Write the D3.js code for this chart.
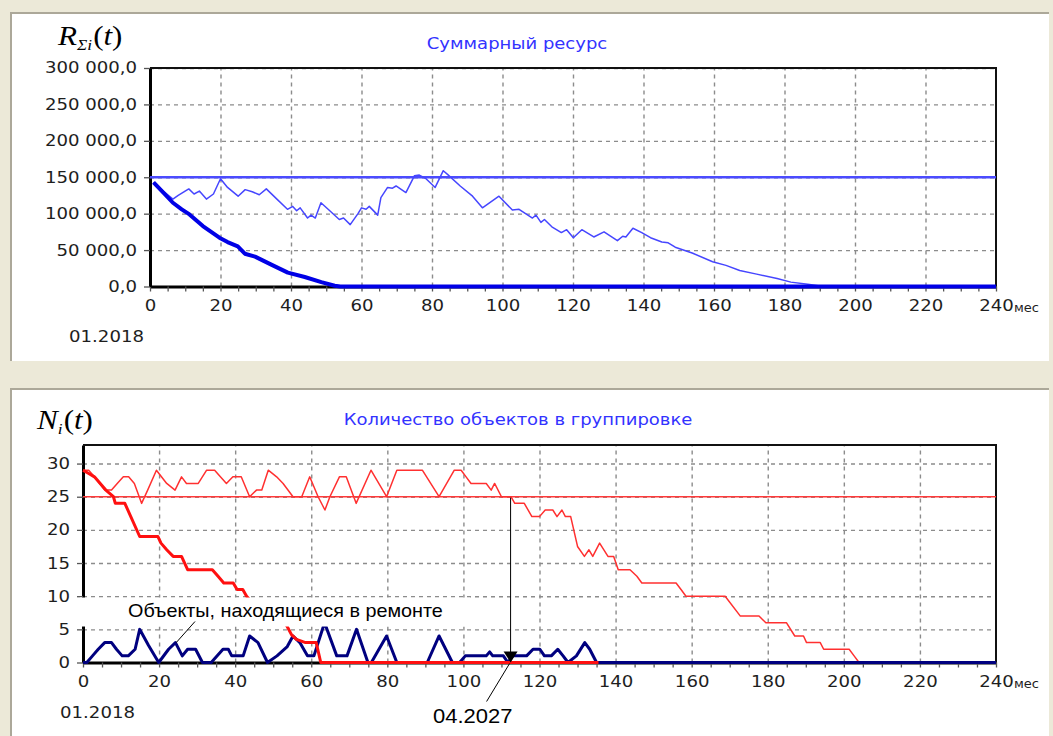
<!DOCTYPE html>
<html>
<head>
<meta charset="utf-8">
<script src="https://cdn.jsdelivr.net/npm/d3@7"></script>
<style>
  body { margin: 0; background: #ece9d8; }
  svg { display: block; font-family: 'DejaVu Sans', sans-serif; }
</style>
</head>
<body>
<svg id="chart" width="1053" height="736"></svg>
<script>
// ---- data (months from 01.2018) ----

const xTicks = d3.range(0, 241, 20);
const xMinorTicks = d3.range(0, 241, 5);

// top chart: total resource
const resTicks = [0, 50000, 100000, 150000, 200000, 250000, 300000];
const resLimit = 150000;

const resTotalMonths = [1, 4, 6.5, 8, 11, 12.5, 14, 16, 18, 20, 22, 25, 27, 29, 31, 33, 36, 39,
  40.5, 41.6, 42.6, 44.7, 45.7, 46.9, 48.5, 51, 53.7, 54.9, 56.8, 59, 60, 61.3, 62.2, 64.6,
  65.5, 67.4, 68.8, 69.8, 72.6, 75, 76.4, 78.3, 80.9, 83.2, 84.4, 88, 91.5, 94.3, 99, 102.8,
  104.7, 108.5, 109.5, 110.9, 111.9, 114, 116.7, 118.2, 120.1, 122.5, 125.9, 128.8, 132.6,
  134.1, 135, 137, 139.5, 142, 145.2, 147, 149, 153.8, 159.6, 163.4, 167.3, 172.1, 177.9,
  181.8, 186.6, 191, 240];
const resTotalValues = [143000, 130000, 120000, 125000, 134000, 127000, 131000, 120000,
  127000, 148000, 136000, 124000, 133000, 130000, 126000, 134000, 120000, 106000, 110000,
  104000, 108000, 94000, 98000, 94000, 115000, 104000, 92000, 94000, 85000, 100000, 108000,
  106000, 110000, 98000, 122000, 136000, 135000, 138000, 129000, 152000, 153000, 148000,
  136000, 159000, 154000, 138000, 124000, 108000, 124000, 105000, 106000, 94000, 98000,
  88000, 92000, 82000, 74000, 78000, 67000, 78000, 68000, 75000, 63000, 69000, 68000, 80000,
  74000, 67000, 61000, 60000, 54000, 46000, 34000, 29000, 22000, 17000, 11000, 6000, 3000, 0, 0];

const resBaseMonths = [1, 4, 6.5, 9, 11.2, 15, 19.7, 22, 24.9, 26.9, 29.8, 34.4, 39.1, 43.9,
  48.6, 52.4, 54, 240];
const resBaseValues = [143000, 128000, 115000, 106000, 99000, 83000, 67000, 61000, 55000,
  45000, 41000, 30000, 19000, 13000, 6000, 1000, 0, 0];

// bottom chart: number of objects
const cntTicks = [0, 5, 10, 15, 20, 25, 30];
const cntLimit = 25;

const cntTotalMonths = [0, 1.5, 3, 5.7, 7.5, 9, 10.6, 12, 13.5, 15.4, 17, 19.3, 22, 24.2,
  25.9, 27.2, 30.3, 32.5, 34.6, 37.7, 39.4, 41.6, 43.8, 45.6, 47, 48.7, 50.9, 52.6, 55.2,
  57.5, 59.6, 61.8, 63.6, 64.9, 67.4, 69.2, 71.8, 75.7, 79.8, 82.5, 89.2, 93.6, 97.6, 99.4,
  100.7, 102, 106, 107.3, 108.2, 110, 112.5, 113.5, 116, 118, 120, 121.5, 123.5, 124.6,
  125.9, 126.8, 128.2, 130, 131.8, 133, 134, 135.8, 138, 139.5, 140.7, 143.8, 145.6, 146.9,
  155.9, 157.2, 158.5, 168.8, 172.8, 177.7, 179.5, 184.9, 187.1, 189.4, 190.2, 193.8, 194.7,
  201.4, 202.7, 204];
const cntTotalValues = [29, 29, 28, 26, 26, 27, 28, 28, 27, 24, 26, 29, 27, 26, 28, 27, 27,
  29, 29, 27, 28, 28, 25, 26, 26, 29, 28, 27, 25, 25, 28, 25, 23, 25, 28, 28, 24, 29, 25, 29,
  29, 25, 29, 29, 28, 27, 27, 26, 27, 25, 25, 24, 24, 22, 22, 23, 23, 22, 23, 22, 22, 17.5,
  16, 17, 16, 18, 16, 16, 14, 14, 13, 12, 12, 11, 10, 10, 7, 7, 6, 6, 4, 4, 3, 3, 2, 2, 1, 0];

const cntBaseMonths = [0, 1.5, 3, 6, 8, 8.5, 11, 14.9, 19.7, 20.5, 22, 23.7, 25.9, 27.5, 34,
  35.5, 37, 39.5, 40.5, 42, 43, 44.5, 46.5, 49, 52, 53.6, 54.8, 56.1, 58.5, 61.3, 62.5, 135.5];
const cntBaseValues = [29, 28.5, 28, 26, 25, 24, 24, 19, 19, 18, 17, 16, 16, 14, 14, 13, 12,
  12, 11, 11, 10, 9, 8, 7, 6.5, 5.5, 4.2, 3.5, 3, 3, 0, 0];

const repairMonths = [0, 1, 2.5, 4, 5.7, 7.5, 8.8, 10.3, 11.9, 13.7, 14.9, 17.2, 19.9, 22.5,
  24.3, 26.1, 27.5, 29.6, 31.4, 33.7, 36.8, 38.2, 39.1, 42.1, 43.8, 46, 48.5, 51, 53.7, 55.2,
  57, 59, 60.7, 63.5, 66.7, 69.4, 71.9, 74.9, 75.8, 79.8, 82.5, 90.5, 93.6, 97.1, 99, 100.5,
  106, 106.9, 107.7, 110.5, 111.7, 113, 116.6, 118.3, 120.1, 121.3, 123.1, 124.8, 126.2,
  127.5, 129.7, 131.9, 133.2, 135, 240];
const repairValues = [0, 0, 1, 2, 3, 3, 2, 1, 1, 2, 5, 2.6, 0, 2, 3, 1, 2, 2, 0, 0, 2, 2, 1,
  1, 4, 3, 0, 1, 2.4, 4, 3, 1, 1, 6, 1, 1, 5, 0, 0, 4, 0, 0, 4, 0, 0, 1, 1, 1.6, 1, 1, 0, 1,
  1, 2, 2, 1, 1, 2, 1, 0, 1, 3, 2, 0, 0];

const crossMonth = 112.4; // 04.2027

// ---- drawing ----

const svg = d3.select('#chart');
const ruFormat = d3.formatLocale({ decimal: ',', thousands: ' ', grouping: [3], currency: ['', ''] });

// window panels
function panel(y, h) {
  svg.append('rect').attr('x', 10).attr('y', y).attr('width', 1039).attr('height', h).attr('fill', '#fff');
  svg.append('path')
    .attr('d', `M11,${y + h} V${y + 1} H1049`)
    .attr('fill', 'none')
    .attr('stroke', '#aca899')
    .attr('stroke-width', 2);
}
panel(12, 349);
panel(388, 360);

function plot(p) {
  const x = d3.scaleLinear().domain([0, 240]).range([p.left, p.right]);
  const y = d3.scaleLinear().domain(p.yDomain).range([p.bottom, p.top]);
  const g = svg.append('g');

  // dashed grid
  g.append('g')
    .attr('transform', `translate(0,${p.bottom})`)
    .call(d3.axisBottom(x).tickValues(xTicks.slice(1, -1)).tickSize(-(p.bottom - p.top)).tickFormat(''))
    .call((s) => s.select('.domain').remove())
    .selectAll('line')
    .attr('stroke', '#8c8c8c')
    .attr('stroke-width', 1.4)
    .attr('stroke-dasharray', '4,4');
  g.append('g')
    .attr('transform', `translate(${p.left},0)`)
    .call(d3.axisLeft(y).tickValues(p.yTicks.slice(1)).tickSize(-(p.right - p.left)).tickFormat(''))
    .call((s) => s.select('.domain').remove())
    .selectAll('line')
    .attr('stroke', '#8c8c8c')
    .attr('stroke-width', 1.4)
    .attr('stroke-dasharray', '4,4');

  // axes
  const xAxis = g.append('g')
    .attr('transform', `translate(0,${p.bottom})`)
    .call(d3.axisBottom(x).tickValues(xMinorTicks).tickSize(5).tickSizeOuter(0).tickPadding(8)
      .tickFormat((d) => (d % 20 === 0 ? d : '')));
  const yAxis = g.append('g')
    .attr('transform', `translate(${p.left},0)`)
    .call(d3.axisLeft(y).tickValues(p.yTicks).tickSize(6).tickSizeOuter(0).tickPadding(5)
      .tickFormat(p.yFormat));
  [xAxis, yAxis].forEach((a) => {
    a.select('.domain').attr('stroke', '#000').attr('stroke-width', 3);
    a.selectAll('.tick line').attr('stroke', '#555').attr('stroke-width', 1.3);
    a.selectAll('text')
      .attr('font-family', 'DejaVu Sans')
      .attr('font-size', 15.5)
      .attr('fill', '#1e1e1e')
      .attr('transform', 'scale(1.17,1)');
  });
  xAxis.selectAll('text').attr('y', 14);

  // frame top / right
  g.append('path')
    .attr('d', `M${p.left},${p.top} H${p.right} V${p.bottom}`)
    .attr('fill', 'none')
    .attr('stroke', '#111')
    .attr('stroke-width', 2);

  g.append('text')
    .attr('x', x(240) + 18)
    .attr('y', p.bottom + 25)
    .attr('font-size', 13)
    .attr('fill', '#1e1e1e')
    .text('мес');

  g.append('text')
    .attr('transform', `translate(${p.dateX},${p.bottom + 55}) scale(1.17,1)`)
    .attr('text-anchor', 'end')
    .attr('font-size', 15.5)
    .attr('fill', '#1e1e1e')
    .text('01.2018');

  g.append('text')
    .attr('transform', `translate(${p.titleX},${p.titleY}) scale(1.2,1)`)
    .attr('text-anchor', 'middle')
    .attr('font-size', 15)
    .attr('fill', '#3333ff')
    .text(p.title);

  return { x, y, g };
}

function drawLine(c, months, values, color, width) {
  c.g.append('path')
    .datum(d3.zip(months, values))
    .attr('fill', 'none')
    .attr('stroke', color)
    .attr('stroke-width', width)
    .attr('stroke-linejoin', 'round')
    .attr('d', d3.line().x((d) => c.x(d[0])).y((d) => c.y(d[1])));
}

// top chart
const resChart = plot({
  left: 150, right: 996, top: 68, bottom: 286.5,
  yDomain: [0, 300000], yTicks: resTicks, yFormat: ruFormat.format(',.1f'),
  dateX: 144, title: 'Суммарный ресурс', titleX: 517, titleY: 49,
});
drawLine(resChart, [0, 240], [resLimit, resLimit], '#4b4bff', 2.5);
drawLine(resChart, resTotalMonths, resTotalValues, '#4646ff', 1.5);
drawLine(resChart, resBaseMonths, resBaseValues, '#0000e6', 4);

// bottom chart
const cntChart = plot({
  left: 83, right: 996, top: 445, bottom: 662.5,
  yDomain: [0, 32.8], yTicks: cntTicks, yFormat: (d) => d,
  dateX: 135, title: 'Количество объектов в группировке', titleX: 518, titleY: 425,
});
drawLine(cntChart, [0, 240], [cntLimit, cntLimit], '#ff3a3a', 1.6);
drawLine(cntChart, cntTotalMonths, cntTotalValues, '#ff3030', 1.5);
drawLine(cntChart, repairMonths, repairValues, '#00007f', 3);
drawLine(cntChart, cntBaseMonths, cntBaseValues, '#ff1010', 3);

// axis symbols
function symbol(x, y, main, sub, subDx) {
  const t = svg.append('text')
    .attr('transform', `translate(${x},${y}) scale(1.15,1)`)
    .attr('font-family', 'Liberation Serif')
    .attr('font-size', 27)
    .attr('fill', '#000');
  t.append('tspan').attr('font-style', 'italic').text(main);
  t.append('tspan').attr('font-style', 'italic').attr('font-size', 15).attr('dy', 5).text(sub);
  t.append('tspan').attr('dy', -5).attr('dx', subDx).text('(');
  t.append('tspan').attr('font-style', 'italic').text('t');
  t.append('tspan').text(')');
}
symbol(58, 45, 'R', 'Σi', 1);
symbol(37, 429, 'N', 'i', 1);

// annotation: objects under repair
const box = cntChart.g.append('g');
box.append('rect')
  .attr('x', 80).attr('y', cntChart.y(9.8))
  .attr('width', 390).attr('height', 29)
  .attr('fill', '#fff');
box.append('text')
  .attr('transform', `translate(128,${cntChart.y(9.8) + 19}) scale(1.1,1)`)
  .attr('font-family', 'Liberation Sans')
  .attr('font-size', 18)
  .attr('fill', '#000')
  .text('Объекты, находящиеся в ремонте');
box.append('line')
  .attr('x1', 195).attr('y1', cntChart.y(9.8) + 24)
  .attr('x2', cntChart.x(24.5)).attr('y2', cntChart.y(3))
  .attr('stroke', '#000').attr('stroke-width', 1);

// annotation: 04.2027
const ax = cntChart.x(crossMonth);
cntChart.g.append('line')
  .attr('x1', ax).attr('y1', cntChart.y(cntLimit) + 1)
  .attr('x2', ax).attr('y2', cntChart.y(0) - 8)
  .attr('stroke', '#000').attr('stroke-width', 1);
cntChart.g.append('path')
  .attr('d', `M${ax - 7},${cntChart.y(0) - 11} L${ax + 7},${cntChart.y(0) - 11} L${ax},${cntChart.y(0)} Z`)
  .attr('fill', '#000');
cntChart.g.append('line')
  .attr('x1', ax - 24).attr('y1', cntChart.y(0) + 39)
  .attr('x2', ax - 1).attr('y2', cntChart.y(0) + 1)
  .attr('stroke', '#000').attr('stroke-width', 1);
cntChart.g.append('text')
  .attr('transform', `translate(433,${cntChart.y(0) + 60}) scale(1.1,1)`)
  .attr('font-family', 'Liberation Sans')
  .attr('font-size', 20)
  .attr('fill', '#000')
  .text('04.2027');
</script>
</body>
</html>
